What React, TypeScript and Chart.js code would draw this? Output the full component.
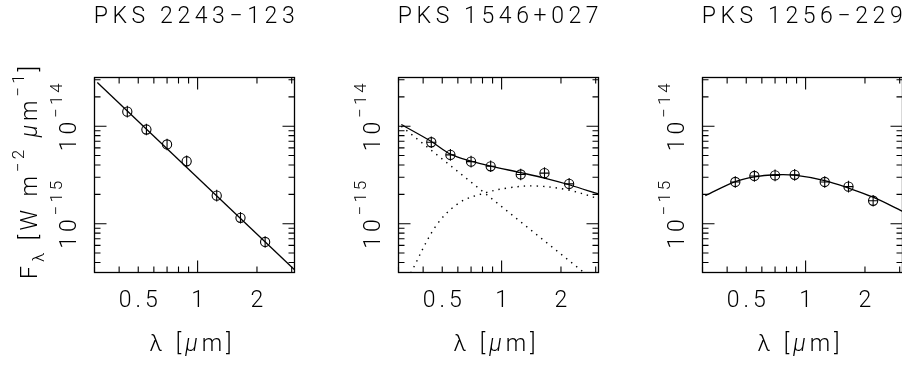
import React, { useEffect, useRef } from 'react';
import { Chart, registerables } from 'chart.js';
Chart.register(...registerables);

// ---------- data ----------
const wavelength = [0.44, 0.55, 0.7, 0.88, 1.25, 1.65, 2.2];
const sourceNames = ['PKS 2243\u2212123', 'PKS 1546+027', 'PKS 1256\u2212229'];
const flux2243 = [1.41e-14, 9.25e-15, 6.5e-15, 4.37e-15, 1.94e-15, 1.15e-15, 6.5e-16];
const flux1546 = [6.85e-15, 5.08e-15, 4.33e-15, 3.88e-15, 3.2e-15, 3.3e-15, 2.56e-15];
const flux1256 = [2.68e-15, 3.09e-15, 3.13e-15, 3.17e-15, 2.68e-15, 2.4e-15, 1.72e-15];

const fitX2243 = [0.31, 3.1];
const fitY2243 = [2.81e-14, 3.37e-16];

const fitX1546 = [0.31, 0.44, 0.55, 0.7, 0.88, 1.25, 1.65, 2.2, 3.1];
const fitY1546 = [1.04e-14, 6.97e-15, 5.18e-15, 4.39e-15, 3.9e-15, 3.34e-15, 2.94e-15, 2.51e-15, 2.02e-15];
const powerX1546 = [0.31, 3.1];
const powerY1546 = [1.0e-14, 2.4e-16];
const hostX1546 = [0.31, 0.348, 0.463, 0.607, 0.824, 1.08, 1.47, 2.15, 3.1];
const hostY1546 = [2.1e-16, 3.2e-16, 9.4e-16, 1.63e-15, 2.07e-15, 2.33e-15, 2.44e-15, 2.23e-15, 1.81e-15];

const fitX1256 = [0.31, 0.44, 0.55, 0.7, 0.88, 1.25, 1.65, 2.2, 3.1];
const fitY1256 = [1.94e-15, 2.7e-15, 3.03e-15, 3.18e-15, 3.15e-15, 2.77e-15, 2.32e-15, 1.87e-15, 1.34e-15];

const xRange = [0.31, 3.1];
const yRange = [3.16e-16, 3.16e-14];
const xTickValues = [0.5, 1, 2];
const xTickLabels = ['0.5', '1', '2'];
const yTickValues = [1e-15, 1e-14];
const yTickExponents = ['\u221215', '\u221214'];

// ---------- styling ----------
const FONT = 'Roboto';
const WEIGHT = 300;
const BASE = 23;
const SUP = 17;
const SPACING = 4;
const TITLE_SPACING = 4.6;

type Part = { t: string; s?: number; dy?: number; it?: boolean; ls?: number };

function fontFor(p: Part) {
  return `${p.it ? 'italic ' : ''}${WEIGHT} ${p.s ?? BASE}px ${FONT}`;
}

function setSpacing(ctx: CanvasRenderingContext2D, p: Part) {
  (ctx as any).letterSpacing = `${p.ls ?? SPACING * ((p.s ?? BASE) / BASE)}px`;
}

function drawParts(ctx: CanvasRenderingContext2D, parts: Part[], x: number, y: number, center: boolean) {
  const widths = parts.map((p) => {
    ctx.font = fontFor(p);
    setSpacing(ctx, p);
    return ctx.measureText(p.t).width;
  });
  const total = widths.reduce((a, b) => a + b, 0);
  let cx = center ? x - total / 2 : x;
  parts.forEach((p, i) => {
    ctx.font = fontFor(p);
    setSpacing(ctx, p);
    ctx.fillText(p.t, cx, y + (p.dy ?? 0));
    cx += widths[i];
  });
}

function logTicks(min: number, max: number) {
  const out: { v: number; major: boolean }[] = [];
  for (let d = Math.floor(Math.log10(min)); d <= Math.ceil(Math.log10(max)); d++) {
    for (let m = 1; m <= 9; m++) {
      const v = m * Math.pow(10, d);
      if (v >= min * 0.999 && v <= max * 1.001) out.push({ v, major: m === 1 });
    }
  }
  return out;
}

const framePlugin = {
  id: 'pgframe',
  afterDraw(chart: any, _args: any, opts: any) {
    const { ctx, chartArea: a, scales } = chart;
    const xs = scales.x;
    const ys = scales.y;
    ctx.save();
    ctx.strokeStyle = '#000';
    ctx.fillStyle = '#000';
    ctx.lineWidth = 1.3;
    ctx.strokeRect(a.left, a.top, a.right - a.left, a.bottom - a.top);
    ctx.lineWidth = 1.1;
    ctx.beginPath();
    for (const t of logTicks(xs.min, xs.max)) {
      const px = xs.getPixelForValue(t.v);
      const len = t.major ? 12 : 6;
      ctx.moveTo(px, a.bottom);
      ctx.lineTo(px, a.bottom - len);
      ctx.moveTo(px, a.top);
      ctx.lineTo(px, a.top + len);
    }
    for (const t of logTicks(ys.min, ys.max)) {
      const py = ys.getPixelForValue(t.v);
      const len = t.major ? 12 : 6;
      ctx.moveTo(a.left, py);
      ctx.lineTo(a.left + len, py);
      ctx.moveTo(a.right, py);
      ctx.lineTo(a.right - len, py);
    }
    ctx.stroke();

    const cxp = (a.left + a.right) / 2;
    ctx.textBaseline = 'alphabetic';
    // title
    drawParts(ctx, [{ t: opts.title, ls: TITLE_SPACING }], cxp + 2, 23, true);
    // x tick labels
    xTickValues.forEach((v, i) => {
      drawParts(ctx, [{ t: xTickLabels[i] }], xs.getPixelForValue(v) + 2, 307, true);
    });
    // x axis label
    drawParts(ctx, [{ t: '\u03bb [' }, { t: '\u03bc', it: true }, { t: 'm]' }], cxp - 2, 351, true);
    // y tick labels (rotated)
    yTickValues.forEach((v, i) => {
      const py = ys.getPixelForValue(v);
      ctx.save();
      ctx.translate(a.left - 18.5, py + 25);
      ctx.rotate(-Math.PI / 2);
      drawParts(ctx, [{ t: '10' }, { t: yTickExponents[i], s: SUP, dy: -14 }], 0, 0, false);
      ctx.restore();
    });
    if (opts.yLabel) {
      ctx.save();
      ctx.translate(37, 279);
      ctx.rotate(-Math.PI / 2);
      drawParts(
        ctx,
        [
          { t: 'F' },
          { t: '\u03bb', s: SUP, dy: 7 },
          { t: ' [W m' },
          { t: '\u22122', s: SUP, dy: -13 },
          { t: ' ' },
          { t: '\u03bc', it: true },
          { t: 'm' },
          { t: '\u22121', s: SUP, dy: -13 },
          { t: ']' },
        ],
        0,
        0,
        false
      );
      ctx.restore();
    }
    ctx.restore();
  },
};

type LineSpec = { x: number[]; y: number[]; dotted: boolean };
type PanelSpec = { title: string; flux: number[]; cross: boolean; lines: LineSpec[]; yLabel: boolean };

const panels: PanelSpec[] = [
  { title: sourceNames[0], flux: flux2243, cross: false, yLabel: true, lines: [{ x: fitX2243, y: fitY2243, dotted: false }] },
  {
    title: sourceNames[1],
    flux: flux1546,
    cross: true,
    yLabel: false,
    lines: [
      { x: powerX1546, y: powerY1546, dotted: true },
      { x: hostX1546, y: hostY1546, dotted: true },
      { x: fitX1546, y: fitY1546, dotted: false },
    ],
  },
  { title: sourceNames[2], flux: flux1256, cross: true, yLabel: false, lines: [{ x: fitX1256, y: fitY1256, dotted: false }] },
];

const pts = (xs: number[], ys: number[]) => xs.map((x, i) => ({ x, y: ys[i] }));

const CANVAS_W = 304;
const CANVAS_H = 369;

export default function App() {
  const refs = [useRef<HTMLCanvasElement>(null), useRef<HTMLCanvasElement>(null), useRef<HTMLCanvasElement>(null)];
  useEffect(() => {
    const charts = panels.map((p, i) => {
      const datasets: any[] = p.lines.map((l) => ({
        data: pts(l.x, l.y),
        showLine: true,
        borderColor: '#000',
        borderWidth: l.dotted ? 1.4 : 1.3,
        borderDash: l.dotted ? [1.4, 5] : [],
        pointRadius: 0,
        tension: l.x.length > 2 ? 0.35 : 0,
        fill: false,
      }));
      const pd = pts(wavelength, p.flux);
      datasets.push({
        data: pd,
        showLine: false,
        pointStyle: 'circle',
        pointRadius: 4.6,
        borderColor: '#000',
        borderWidth: 1.1,
        backgroundColor: 'rgba(0,0,0,0)',
      });
      datasets.push({
        data: pd,
        showLine: false,
        pointStyle: 'line',
        rotation: 90,
        pointRadius: 5.8,
        borderColor: '#000',
        borderWidth: 1.1,
      });
      if (p.cross) {
        datasets.push({
          data: pd,
          showLine: false,
          pointStyle: 'line',
          rotation: 0,
          pointRadius: 4.6,
          borderColor: '#000',
          borderWidth: 1.1,
        });
      }
      return new Chart(refs[i].current as HTMLCanvasElement, {
        type: 'scatter',
        data: { datasets },
        options: {
          animation: false,
          responsive: false,
          events: [],
          layout: { padding: { left: 94.5, right: 9.5, top: 77.5, bottom: 96.5 } },
          plugins: {
            legend: { display: false },
            tooltip: { enabled: false },
            pgframe: { title: p.title, yLabel: p.yLabel },
          } as any,
          scales: {
            x: { type: 'logarithmic', min: xRange[0], max: xRange[1], display: false },
            y: { type: 'logarithmic', min: yRange[0], max: yRange[1], display: false },
          },
        },
        plugins: [framePlugin],
      });
    });
    return () => charts.forEach((c) => c.destroy());
  }, []);

  return (
    <div style={{ position: 'absolute', left: 0, top: 0, width: 902, height: 369, overflow: 'hidden', background: '#fff' }}>
      {refs.map((r, i) => (
        <canvas
          key={i}
          ref={r}
          width={CANVAS_W}
          height={CANVAS_H}
          style={{ position: 'absolute', left: i * CANVAS_W, top: 0, width: CANVAS_W, height: CANVAS_H }}
        />
      ))}
    </div>
  );
}
